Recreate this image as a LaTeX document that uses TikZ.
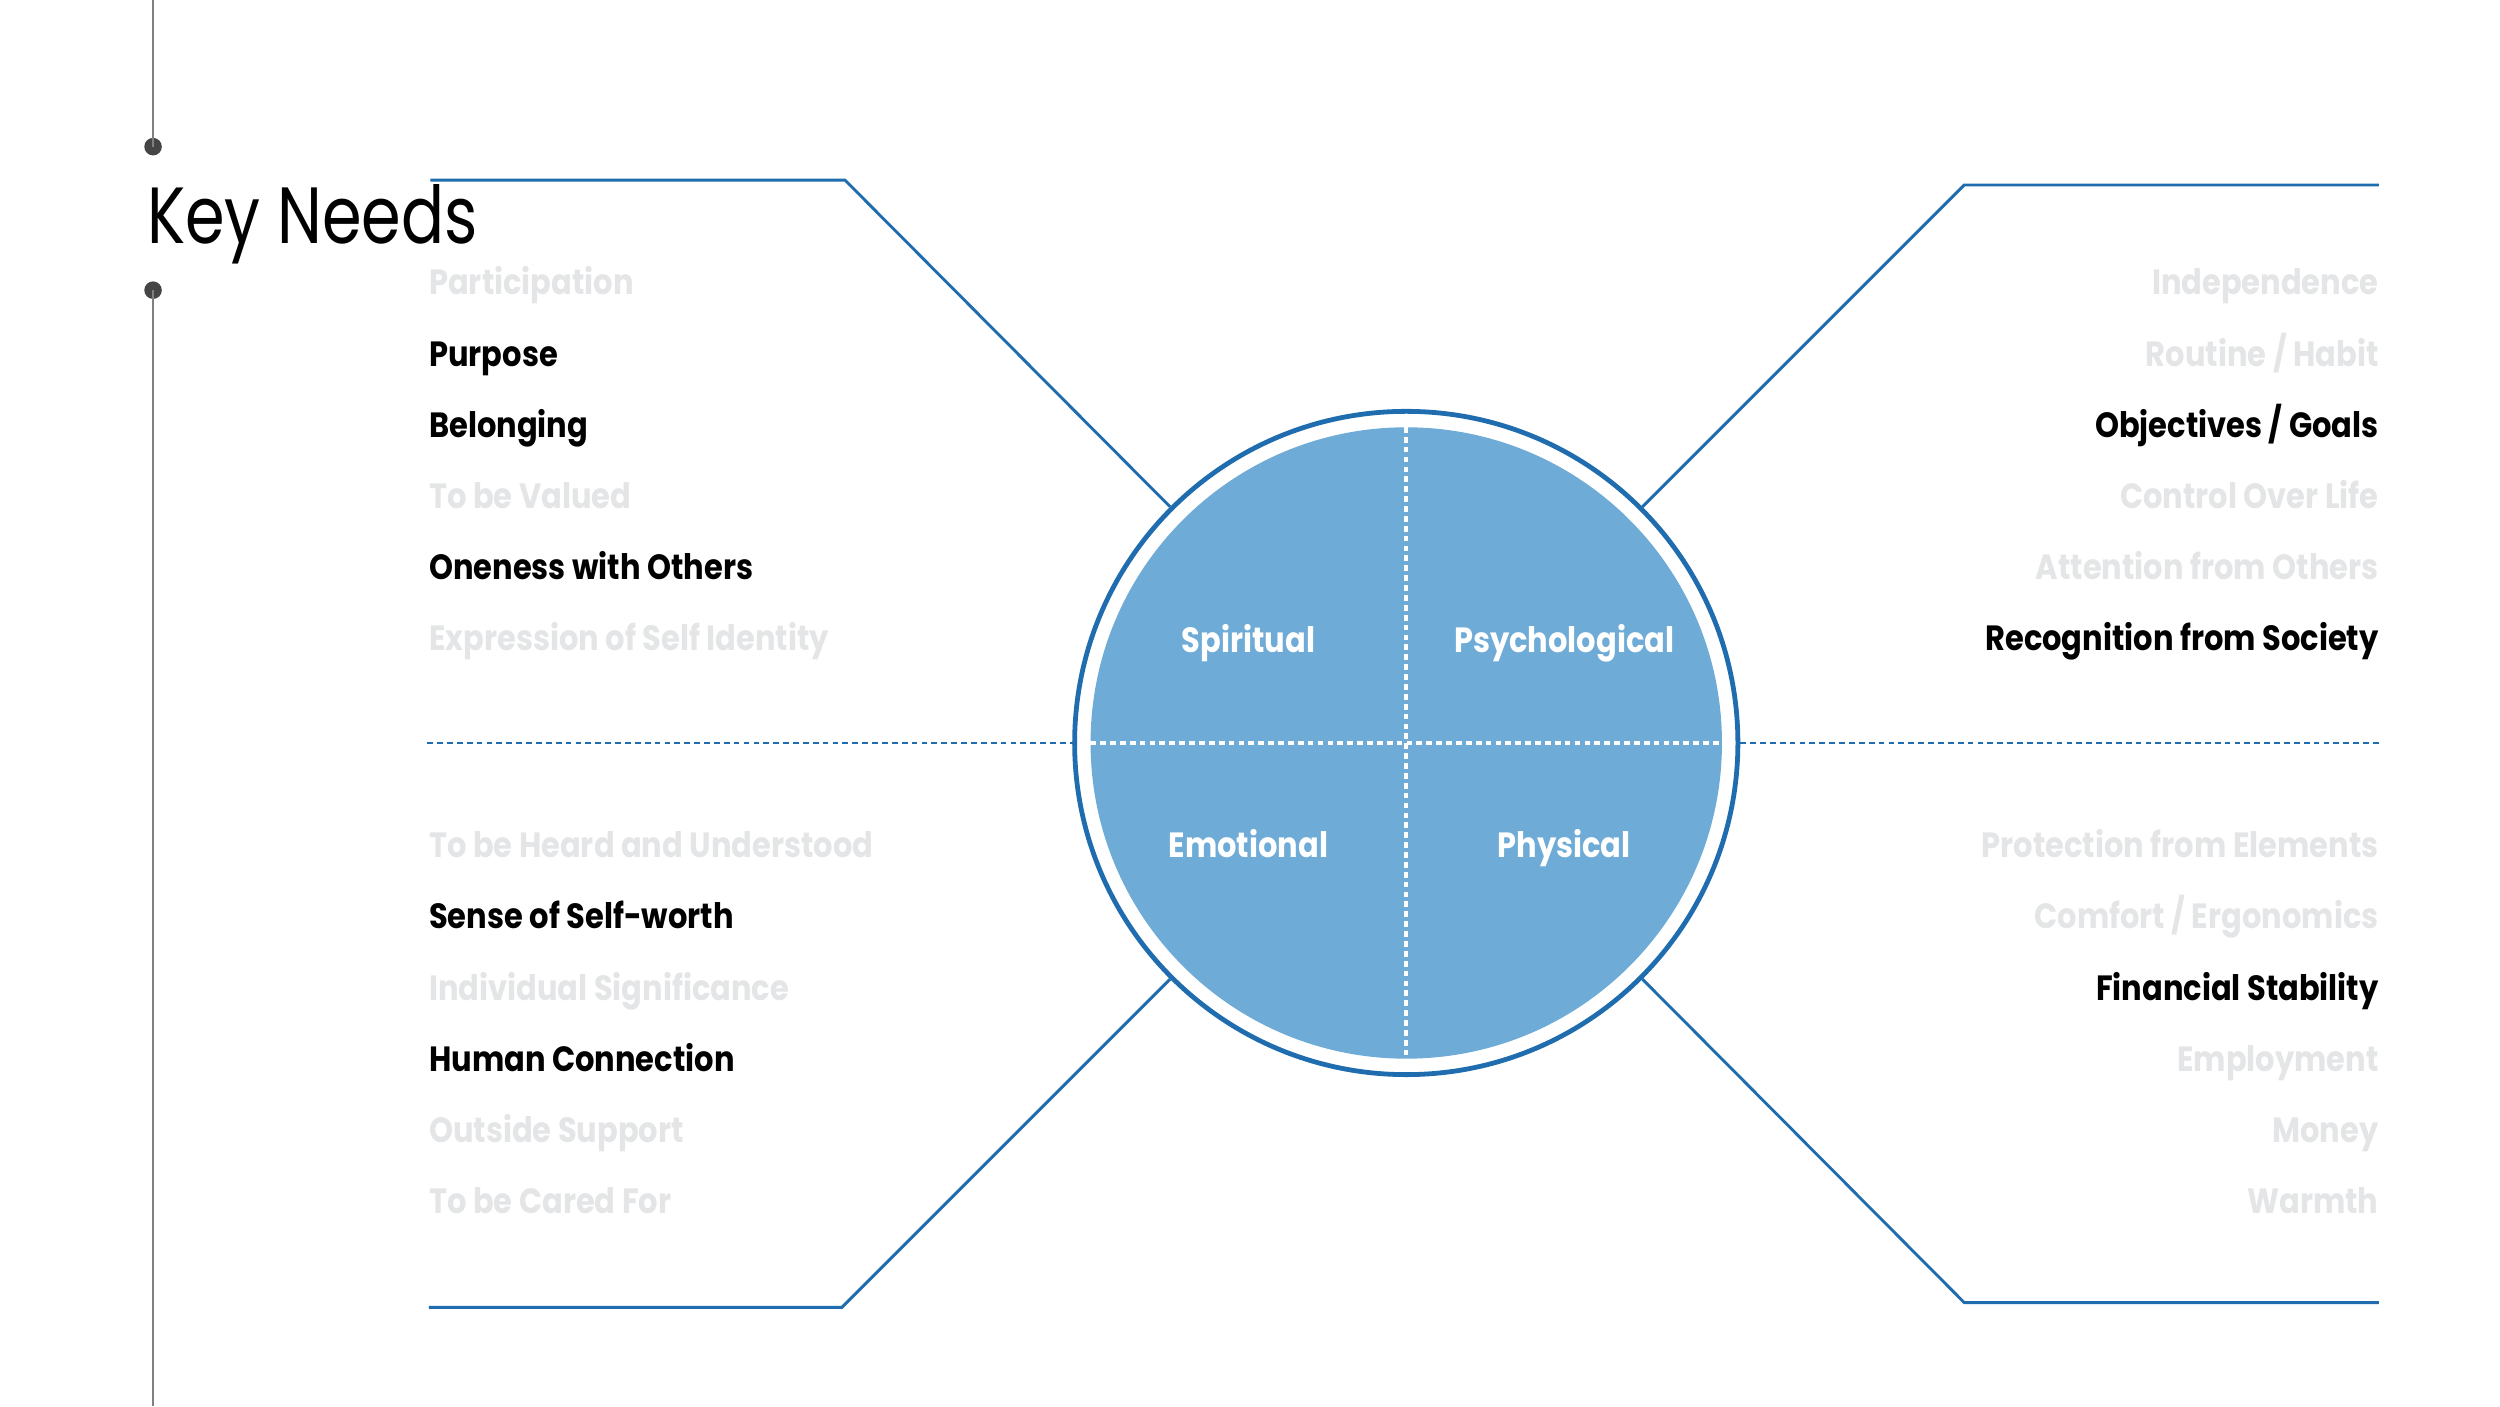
\documentclass[tikz,border=0pt]{standalone}
\usepackage{fontspec}
\newfontfamily\titlefont{Poppins}[FakeStretch=0.80]
\newfontfamily\itemfont{Poppins Bold}[FakeStretch=0.87]
\definecolor{kblue}{HTML}{1F6DAE}
\definecolor{kfill}{HTML}{6EABD6}
\definecolor{kfade}{HTML}{E4E5E6}
\definecolor{kgray}{HTML}{808080}
\definecolor{kdot}{HTML}{454545}
\begin{document}
\begin{tikzpicture}[x=1pt,y=-1pt,
  bline/.style={draw=kblue,line width=1.8pt},
  dline/.style={draw=kblue,line width=1.7pt,dash pattern=on 3.6pt off 2.6pt},
  wline/.style={draw=white,line width=2.3pt,dash pattern=on 3.6pt off 2.6pt},
  itm/.style={font=\itemfont\fontsize{22}{26}\selectfont,inner sep=0pt},
  lft/.style={itm,anchor=base west},
  rgt/.style={itm,anchor=base east},
  dark/.style={text=black},
  fade/.style={text=kfade},
  quad/.style={itm,anchor=base,text=white},
  dotmark/.style={circle,fill=kdot,inner sep=0pt,minimum size=11pt}
]
\useasboundingbox (0,0) rectangle (1568,882);
\fill[white] (0,0) rectangle (1568,882);

% side rule and dots
\node[dotmark] (d1) at (96,92) {};
\node[dotmark] (d2) at (96,182) {};
\coordinate (rtop) at (96,0);
\coordinate (rbot) at (96,882);
\draw[kgray,line width=1pt] (rtop) -- (d1.center);
\draw[kgray,line width=1pt] (d2.center) -- (rbot);

% title
\node[anchor=base west,inner sep=0pt,font=\titlefont\fontsize{50}{56}\selectfont] (title) at (92,153) {Key Needs};

% circle
\node[circle,draw=kblue,line width=3pt,minimum size=416pt,inner sep=0pt] (ring) at (882,466) {};
\node[circle,fill=kfill,minimum size=396pt,inner sep=0pt] (disc) at (882,466) {};
\draw[wline] (disc.north) -- (disc.south);
\draw[wline] (disc.west) -- (disc.east);

% quadrant labels
\node[quad] (spi) at (783,409) {Spiritual};
\node[quad] (psy) at (981,409) {Psychological};
\node[quad] (emo) at (783,538) {Emotional};
\node[quad] (phy) at (981,538) {Physical};

% connectors
\coordinate (tl0) at (270,113);
\coordinate (tl1) at (530,113);
\coordinate (tr0) at (1492,116);
\coordinate (tr1) at (1232,116);
\coordinate (bl0) at (269,820);
\coordinate (bl1) at (528,820);
\coordinate (br0) at (1492,817);
\coordinate (br1) at (1232,817);
\coordinate (ml) at (268,466);
\coordinate (mr) at (1492,466);
\draw[bline] (tl0) -- (tl1) -- (ring.135);
\draw[bline] (tr0) -- (tr1) -- (ring.45);
\draw[bline] (bl0) -- (bl1) -- (ring.225);
\draw[bline] (br0) -- (br1) -- (ring.315);
\draw[dline] (ml) -- (ring.west);
\draw[dline] (ring.east) -- (mr);

% top-left list
\node[lft,fade] (a1) at (269,185) {Participation};
\node[lft,dark] (a2) at (269,229.6) {Purpose};
\node[lft,dark] (a3) at (269,274.2) {Belonging};
\node[lft,fade] (a4) at (269,318.8) {To be Valued};
\node[lft,dark] (a5) at (269,363.4) {Oneness with Others};
\node[lft,fade] (a6) at (269,408) {Expression of Self Identity};

% top-right list
\node[rgt,fade] (b1) at (1492,185) {Independence};
\node[rgt,fade] (b2) at (1492,229.6) {Routine / Habit};
\node[rgt,dark] (b3) at (1492,274.2) {Objectives / Goals};
\node[rgt,fade] (b4) at (1492,318.8) {Control Over Life};
\node[rgt,fade] (b5) at (1492,363.4) {Attention from Others};
\node[rgt,dark] (b6) at (1492,408) {Recognition from Society};

% bottom-left list
\node[lft,fade] (c1) at (269,538) {To be Heard and Understood};
\node[lft,dark] (c2) at (269,582.6) {Sense of Self-worth};
\node[lft,fade] (c3) at (269,627.2) {Individual Significance};
\node[lft,dark] (c4) at (269,671.8) {Human Connection};
\node[lft,fade] (c5) at (269,716.4) {Outside Support};
\node[lft,fade] (c6) at (269,761) {To be Cared For};

% bottom-right list
\node[rgt,fade] (e1) at (1492,538) {Protection from Elements};
\node[rgt,fade] (e2) at (1492,582.6) {Comfort / Ergonomics};
\node[rgt,dark] (e3) at (1492,627.2) {Financial Stability};
\node[rgt,fade] (e4) at (1492,671.8) {Employment};
\node[rgt,fade] (e5) at (1492,716.4) {Money};
\node[rgt,fade] (e6) at (1492,761) {Warmth};
\end{tikzpicture}
\end{document}
